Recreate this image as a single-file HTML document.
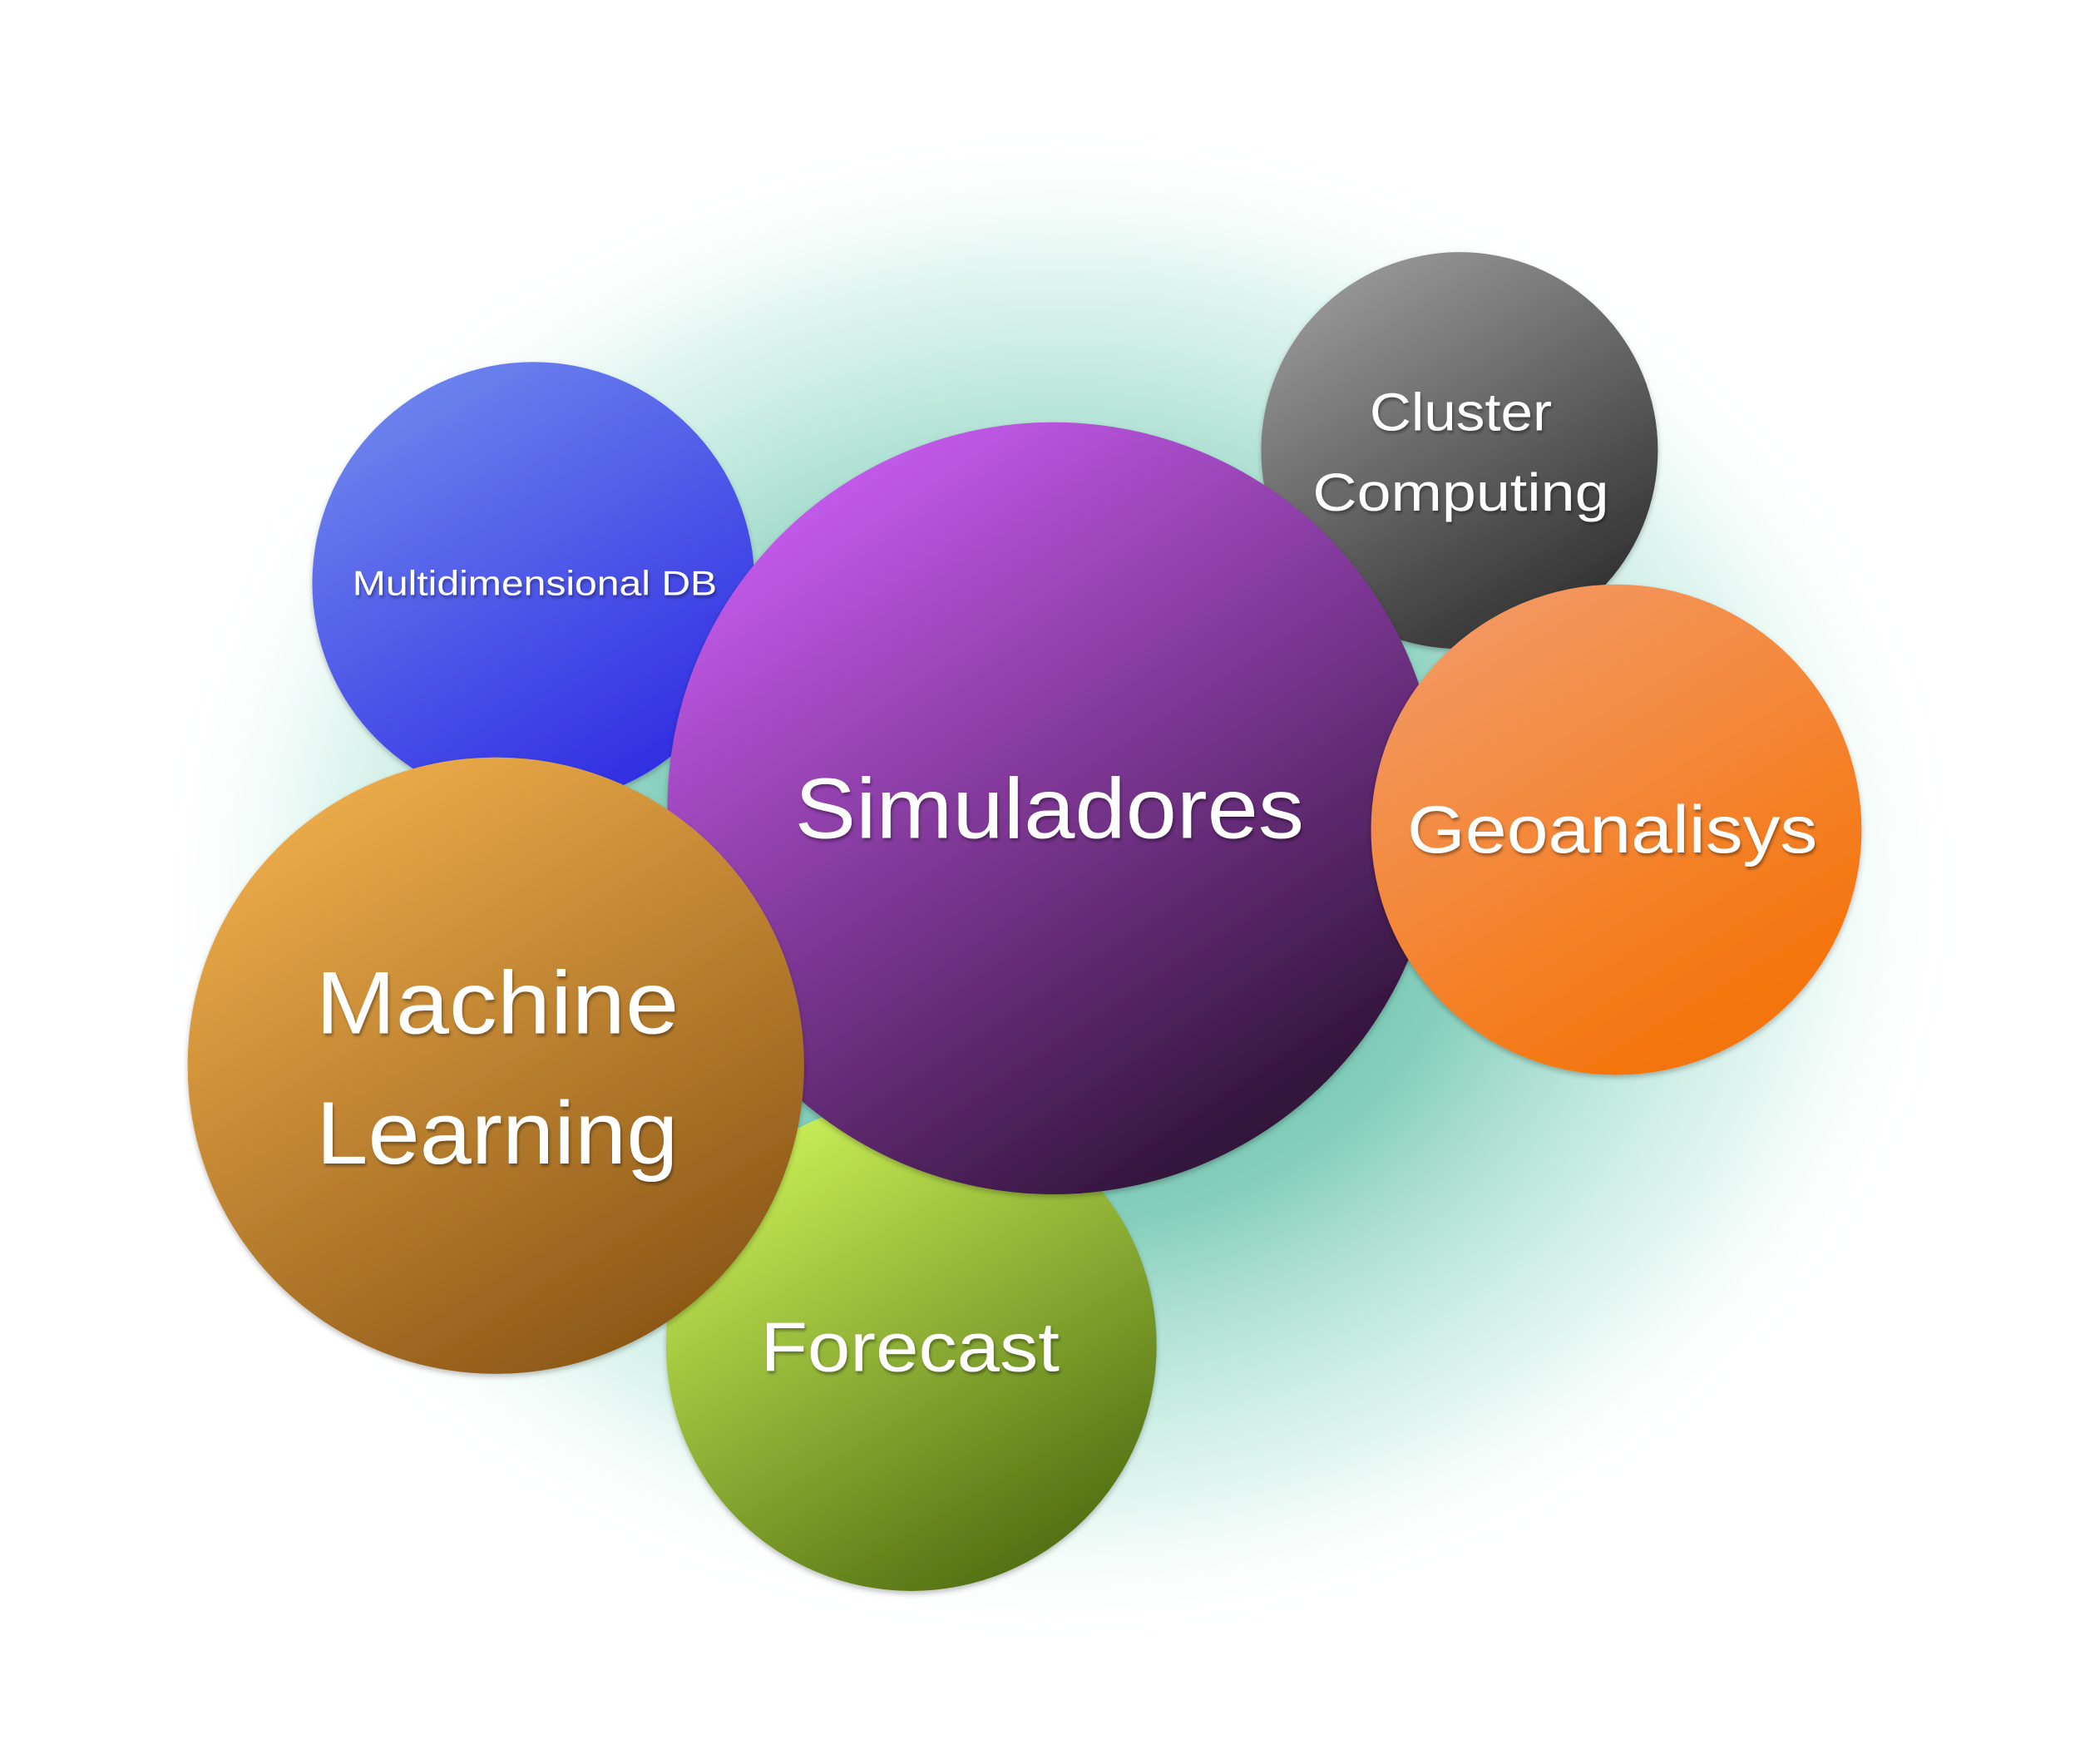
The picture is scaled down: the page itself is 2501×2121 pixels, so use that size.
<!DOCTYPE html>
<html><head><meta charset="utf-8"><style>
html,body{margin:0;padding:0;background:#fff;}
svg{display:block;}
text{font-family:"Liberation Sans",sans-serif;fill:#fff;text-anchor:middle;}
</style></head><body>
<svg width="2501" height="2121" viewBox="0 0 1552 1316" xmlns="http://www.w3.org/2000/svg">
<defs>
<radialGradient id="glow" cx="0.5" cy="0.5" r="0.5">
<stop offset="0" stop-color="#3aa68e" stop-opacity="0.95"/>
<stop offset="0.45" stop-color="#5fbfa6" stop-opacity="0.75"/>
<stop offset="0.8" stop-color="#aee6d6" stop-opacity="0.4"/>
<stop offset="1" stop-color="#ffffff" stop-opacity="0"/>
</radialGradient>
<linearGradient id="gm" x1="0.2" y1="0" x2="0.8" y2="1"><stop offset="0" stop-color="#7088ee"/><stop offset="1" stop-color="#2c28e2"/></linearGradient>
<linearGradient id="gc" x1="0.2" y1="0" x2="0.8" y2="1"><stop offset="0" stop-color="#9c9c9c"/><stop offset="1" stop-color="#2a2a2a"/></linearGradient>
<linearGradient id="gs" x1="0.2" y1="0.05" x2="0.8" y2="0.95"><stop offset="0" stop-color="#c85cf0"/><stop offset="0.5" stop-color="#7a3590"/><stop offset="1" stop-color="#2a1232"/></linearGradient>
<linearGradient id="gg" x1="0.2" y1="0" x2="0.8" y2="1"><stop offset="0" stop-color="#f39a66"/><stop offset="1" stop-color="#f47000"/></linearGradient>
<linearGradient id="gl" x1="0.2" y1="0" x2="0.8" y2="1"><stop offset="0" stop-color="#f2b04c"/><stop offset="1" stop-color="#855214"/></linearGradient>
<linearGradient id="gf" x1="0.2" y1="0" x2="0.8" y2="1"><stop offset="0" stop-color="#cff55a"/><stop offset="1" stop-color="#4a670e"/></linearGradient>
<filter id="sh" x="-20%" y="-20%" width="140%" height="140%"><feDropShadow dx="0" dy="2" stdDeviation="2" flood-color="#000" flood-opacity="0.25"/></filter>
<filter id="ts"><feDropShadow dx="1" dy="2" stdDeviation="1" flood-color="#000" flood-opacity="0.35"/></filter>
</defs>
<ellipse cx="790" cy="660" rx="680" ry="570" fill="url(#glow)"/>
<circle cx="680" cy="1004" r="183" fill="url(#gf)" filter="url(#sh)"/>
<circle cx="398" cy="435" r="165" fill="url(#gm)" filter="url(#sh)"/>
<circle cx="1089" cy="336" r="148" fill="url(#gc)" filter="url(#sh)"/>
<circle cx="786" cy="603" r="288" fill="url(#gs)" filter="url(#sh)"/>
<circle cx="1206" cy="619" r="183" fill="url(#gg)" filter="url(#sh)"/>
<circle cx="370" cy="795" r="230" fill="url(#gl)" filter="url(#sh)"/>
<g filter="url(#ts)">
<text x="399" y="444" font-size="26" textLength="272" lengthAdjust="spacingAndGlyphs">Multidimensional DB</text>
<text x="1090" y="321" font-size="40" textLength="136" lengthAdjust="spacingAndGlyphs">Cluster</text>
<text x="1090" y="381" font-size="40" textLength="221" lengthAdjust="spacingAndGlyphs">Computing</text>
<text x="783" y="625" font-size="64" textLength="380" lengthAdjust="spacingAndGlyphs">Simuladores</text>
<text x="1203" y="636" font-size="50" textLength="306" lengthAdjust="spacingAndGlyphs">Geoanalisys</text>
<text x="371" y="771" font-size="66" textLength="271" lengthAdjust="spacingAndGlyphs">Machine</text>
<text x="371" y="868" font-size="66" textLength="270" lengthAdjust="spacingAndGlyphs">Learning</text>
<text x="679" y="1023" font-size="52" textLength="223" lengthAdjust="spacingAndGlyphs">Forecast</text>
</g>
</svg>
</body></html>
